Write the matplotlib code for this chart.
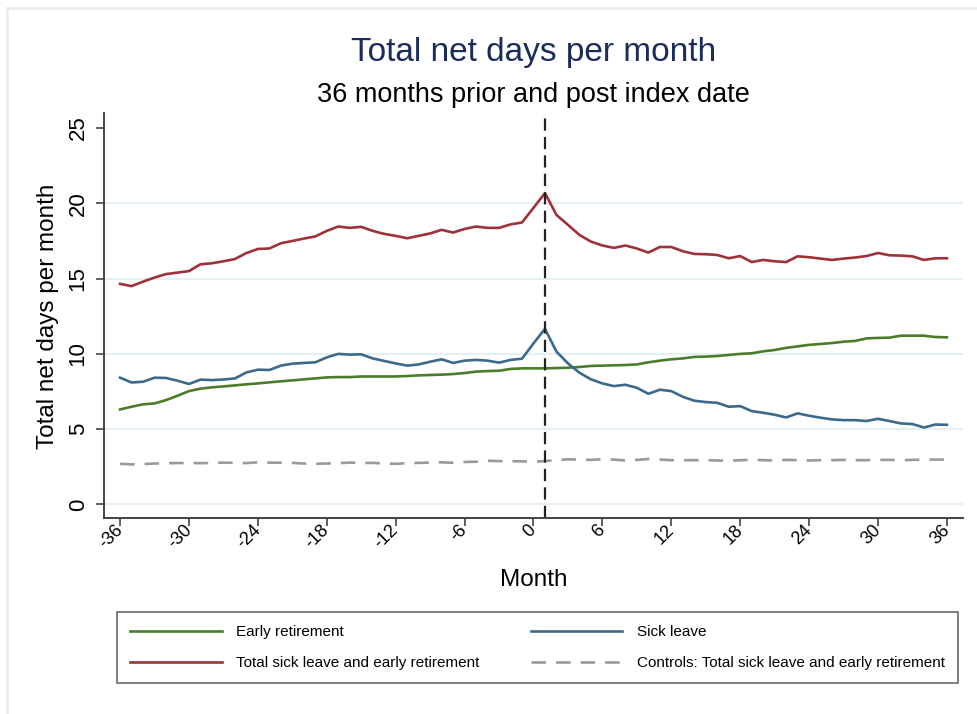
import numpy as np
import matplotlib
matplotlib.use("Agg")
import matplotlib.pyplot as plt
from matplotlib.lines import Line2D

plt.rcParams['font.family'] = ['Liberation Sans', 'DejaVu Sans']
plt.rcParams['axes.unicode_minus'] = False

months = np.arange(-36, 37)
index_month = 1

early_retirement = [
    6.31, 6.49, 6.65, 6.71, 6.93, 7.22, 7.53, 7.69, 7.78, 7.84, 7.91, 7.98,
    8.04, 8.11, 8.18, 8.24, 8.31, 8.37, 8.44, 8.46, 8.46, 8.50, 8.50, 8.50,
    8.50, 8.53, 8.57, 8.60, 8.62, 8.66, 8.73, 8.82, 8.86, 8.88, 9.00, 9.04,
    9.04, 9.04, 9.06, 9.08, 9.13, 9.20, 9.22, 9.24, 9.26, 9.30, 9.44, 9.55,
    9.64, 9.70, 9.80, 9.82, 9.86, 9.93, 10.00, 10.04, 10.17, 10.26, 10.40, 10.50,
    10.60, 10.66, 10.72, 10.81, 10.86, 11.03, 11.06, 11.08, 11.21, 11.21, 11.21, 11.12,
    11.10,
]
sick_leave = [
    8.42, 8.10, 8.15, 8.42, 8.40, 8.22, 8.00, 8.29, 8.26, 8.30, 8.37, 8.77,
    8.95, 8.93, 9.22, 9.35, 9.40, 9.44, 9.77, 10.00, 9.95, 9.97, 9.70, 9.53,
    9.37, 9.22, 9.30, 9.48, 9.64, 9.40, 9.55, 9.60, 9.55, 9.42, 9.60, 9.68,
    10.70, 11.66, 10.15, 9.37, 8.75, 8.31, 8.04, 7.86, 7.95, 7.75, 7.35, 7.62,
    7.53, 7.15, 6.89, 6.80, 6.75, 6.49, 6.53, 6.20, 6.09, 5.96, 5.78, 6.05,
    5.89, 5.76, 5.65, 5.60, 5.60, 5.54, 5.69, 5.54, 5.38, 5.34, 5.11, 5.31,
    5.29,
]
total = [
    14.65, 14.50, 14.80, 15.07, 15.30, 15.40, 15.50, 15.95, 16.02, 16.15, 16.30, 16.70,
    16.97, 17.00, 17.35, 17.50, 17.66, 17.80, 18.17, 18.46, 18.37, 18.44, 18.17, 17.97,
    17.84, 17.68, 17.84, 18.00, 18.24, 18.06, 18.30, 18.46, 18.37, 18.37, 18.60, 18.73,
    19.70, 20.68, 19.23, 18.57, 17.90, 17.46, 17.20, 17.04, 17.20, 17.00, 16.73, 17.10,
    17.10, 16.82, 16.64, 16.62, 16.57, 16.35, 16.50, 16.10, 16.24, 16.15, 16.10, 16.48,
    16.42, 16.33, 16.24, 16.33, 16.40, 16.50, 16.70, 16.55, 16.53, 16.48, 16.24, 16.35,
    16.35,
]
controls = [
    2.70, 2.66, 2.68, 2.72, 2.74, 2.75, 2.76, 2.74, 2.76, 2.78, 2.76, 2.75,
    2.80, 2.78, 2.77, 2.76, 2.72, 2.70, 2.72, 2.74, 2.78, 2.76, 2.76, 2.72,
    2.70, 2.74, 2.76, 2.78, 2.80, 2.77, 2.82, 2.84, 2.90, 2.88, 2.88, 2.86,
    2.84, 2.88, 2.95, 3.00, 2.98, 2.96, 3.00, 2.98, 2.92, 2.96, 3.02, 2.98,
    2.94, 2.94, 2.94, 2.94, 2.92, 2.90, 2.94, 2.96, 2.94, 2.92, 2.96, 2.94,
    2.92, 2.94, 2.94, 2.96, 2.94, 2.94, 2.96, 2.96, 2.94, 2.96, 2.98, 2.98,
    2.98,
]

labels = [
    "Early retirement",
    "Sick leave",
    "Total sick leave and early retirement",
    "Controls: Total sick leave and early retirement",
]
colors = ["#4a7d2a", "#3b6a8c", "#a0303a", "#9a9a9a"]

fig = plt.figure(figsize=(9.78, 7.14), dpi=100)
ax = fig.add_axes([104 / 978, 1 - 518 / 714, 859 / 978, 405 / 714])

for y in [0, 5, 10, 15, 20]:
    ax.axhline(y, color="#e6eff2", lw=1.5, zorder=0)

l_er, = ax.plot(months, early_retirement, color=colors[0], lw=1.9)
l_sl, = ax.plot(months, sick_leave, color=colors[1], lw=1.9)
l_tot, = ax.plot(months, total, color=colors[2], lw=1.9)
l_ctl, = ax.plot(months, controls, color=colors[3], lw=1.9, dashes=(5.5, 3.8))
ax.axvline(index_month, color="#222222", lw=1.6, dashes=(5.5, 2.8))

ax.set_xlim(-37.4, 37.4)
ax.set_ylim(-0.9, 26.0)
ax.set_xticks(np.arange(-36, 37, 6))
ax.set_yticks(np.arange(0, 26, 5))
ax.tick_params(axis="both", length=6, width=1.2, color="#444444")
ax.tick_params(axis="y", labelsize=16, pad=5, labelrotation=90)
ax.tick_params(axis="x", labelsize=13, pad=1)
for t in ax.get_yticklabels():
    t.set_va("center")
for t in ax.get_xticklabels():
    t.set_rotation(45)
    t.set_ha("right")
    t.set_va("center")
    t.set_rotation_mode("anchor")
for side in ["top", "right"]:
    ax.spines[side].set_visible(False)
for side in ["left", "bottom"]:
    ax.spines[side].set_color("#444444")
    ax.spines[side].set_linewidth(1.4)

fig.text(0.5 * (104 + 963) / 978, 1 - 52 / 714, "Total net days per month",
         ha="center", va="center", fontsize=24, color="#1a2c5c")
fig.text(0.5 * (104 + 963) / 978, 1 - 95 / 714, "36 months prior and post index date",
         ha="center", va="center", fontsize=19.5, color="black")
fig.text(48 / 978, 1 - 316 / 714, "Total net days per month", rotation=90,
         ha="center", va="center", fontsize=17.5)
fig.text(0.5 * (104 + 963) / 978, 1 - 580 / 714, "Month",
         ha="center", va="center", fontsize=17.5)

# legend is filled column by column, so order handles to read row by row
leg = fig.legend([l_er, l_tot, l_sl, l_ctl],
                 [labels[0], labels[2], labels[1], labels[3]], ncol=2,
                 bbox_to_anchor=(117 / 978, 26 / 714, 841 / 978, 81 / 714),
                 loc="center", mode="expand", fontsize=11, borderaxespad=0,
                 handlelength=6.0, handletextpad=0.95, labelspacing=1.1,
                 borderpad=0.85, fancybox=False, frameon=True)
leg.get_frame().set_edgecolor("#444444")
leg.get_frame().set_linewidth(1.2)

# faint outer graph-region border
fig.add_artist(Line2D([7 / 978, 7 / 978], [0, 1 - 8 / 714], color="#e8eef0", lw=2))
fig.add_artist(Line2D([7 / 978, 1], [1 - 8 / 714, 1 - 8 / 714], color="#e8eef0", lw=2))

fig.savefig("out.png", dpi=100)
